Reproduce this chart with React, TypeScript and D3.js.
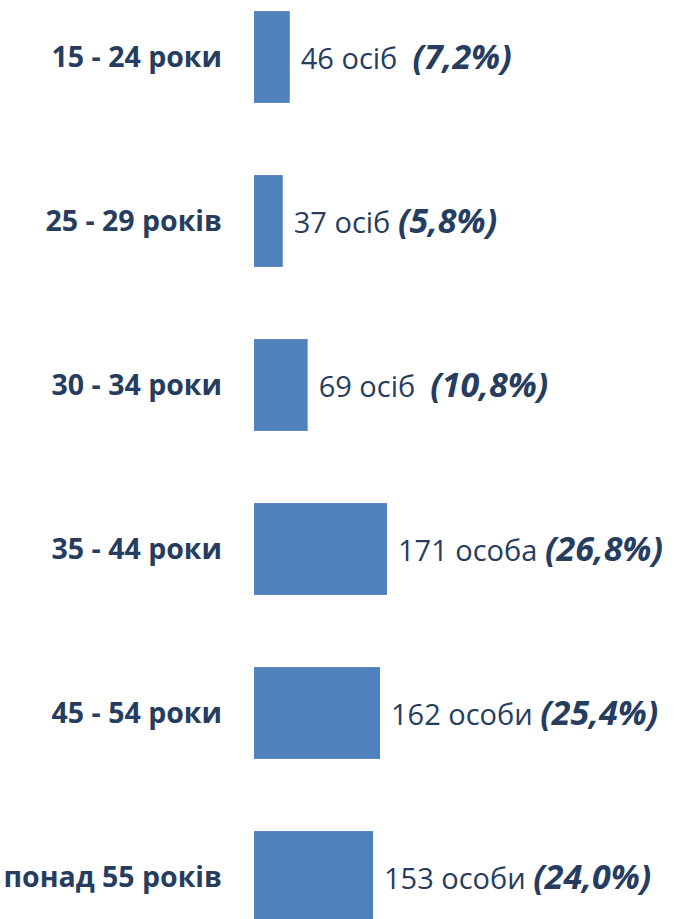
import * as d3 from 'd3';

const categories = ['15 - 24 роки', '25 - 29 років', '30 - 34 роки', '35 - 44 роки', '45 - 54 роки', 'понад 55 років'];
const counts = [46, 37, 69, 171, 162, 153];
const countLabels = ['46 осіб  ', '37 осіб ', '69 осіб  ', '171 особа ', '162 особи ', '153 особи '];
const shares = ['(7,2%)', '(5,8%)', '(10,8%)', '(26,8%)', '(25,4%)', '(24,0%)'];

const W = 674;
const H = 919;
const BAR_COLOR = '#4f81bd';
const TEXT_COLOR = '#263d5f';
const FONT = '"Open Sans", "Noto Sans", sans-serif';

export default function App() {
  const x = d3.scaleLinear().domain([0, 171]).range([254, 387]);
  const y = d3.scaleBand<string>()
    .domain(categories)
    .range([-25, 959])
    .paddingInner(0.44)
    .paddingOuter(0.22);

  return (
    <svg width={W} height={H} style={{ position: 'absolute', left: 0, top: 0, background: '#fff' }}>
      {categories.map((c, i) => {
        const y0 = y(c) ?? 0;
        const cy = y0 + y.bandwidth() / 2;
        return (
          <g key={c}>
            <rect x={x(0)} y={y0} width={x(counts[i]) - x(0)} height={y.bandwidth()} fill={BAR_COLOR} />
            <text
              x={222}
              y={cy}
              dy="0.35em"
              textAnchor="end"
              fontFamily={FONT}
              fontWeight="bold"
              fontSize={28.5}
              fill={TEXT_COLOR}
            >{c}</text>
            <text
              x={x(counts[i]) + 11}
              y={cy + 2}
              dy="0.35em"
              fontFamily={FONT}
              fontSize={29}
              fill={TEXT_COLOR}
              style={{ whiteSpace: 'pre' }}
            >
              {countLabels[i]}
              <tspan fontWeight="bold" fontStyle="italic" fontSize={34}>{shares[i]}</tspan>
            </text>
          </g>
        );
      })}
    </svg>
  );
}
